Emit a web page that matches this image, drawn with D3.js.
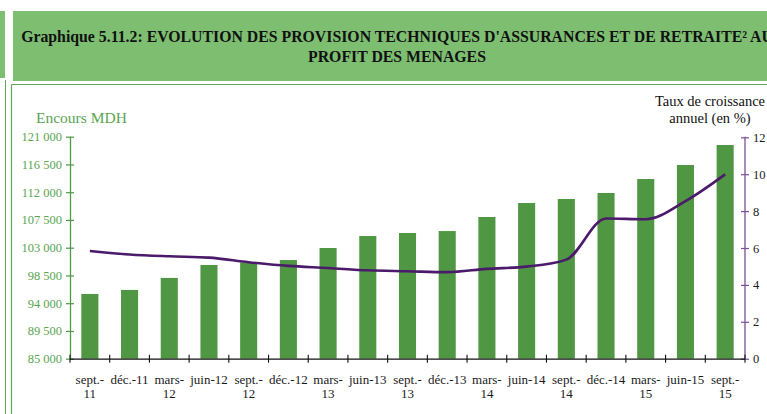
<!DOCTYPE html>
<html>
<head>
<meta charset="utf-8">
<script src="https://cdn.jsdelivr.net/npm/d3@7"></script>
<style>
  html, body { margin: 0; padding: 0; background: #fff; }
  svg { display: block; }
  text { font-family: "Liberation Serif", "Times New Roman", serif; }
</style>
</head>
<body>
<svg id="chart" width="767" height="414"></svg>
<script>
// Quarterly periods shown on the horizontal axis
const periods = ["sept.-11", "déc.-11", "mars-12", "juin-12", "sept.-12", "déc.-12",
  "mars-13", "juin-13", "sept.-13", "déc.-13", "mars-14", "juin-14",
  "sept.-14", "déc.-14", "mars-15", "juin-15", "sept.-15"];

// Tick labels as printed (two lines where the label wraps)
const tickLabels = ["sept.-\n11", "déc.-11", "mars-\n12", "juin-12", "sept.-\n12", "déc.-12",
  "mars-\n13", "juin-13", "sept.-\n13", "déc.-13", "mars-\n14", "juin-14",
  "sept.-\n14", "déc.-14", "mars-\n15", "juin-15", "sept.-\n15"];

// Outstanding technical provisions (MDH)
const encours = [95500, 96150, 98100, 100200, 100570, 101000, 102950, 104900, 105380,
  105700, 107980, 110250, 110900, 111870, 114140, 116410, 119650];

// Annual growth rate (%)
const croissance = [5.84, 5.65, 5.55, 5.48, 5.23, 5.03, 4.92, 4.79, 4.74,
  4.69, 4.87, 4.99, 5.37, 7.60, 7.56, 8.54, 9.99];

// Axis tick values
const leftTicks = [85000, 89500, 94000, 98500, 103000, 107500, 112000, 116500, 121000];
const rightTicks = [0, 2, 4, 6, 8, 10, 12];

const titleLines = ["Graphique 5.11.2: EVOLUTION DES PROVISION TECHNIQUES D'ASSURANCES ET DE RETRAITE² AU",
  "PROFIT DES  MENAGES"];

const svg = d3.select("#chart");

const C = {
  band: "#7dbe71",
  frame: "#5fa855",
  bar: "#4f9743",
  line: "#4b1a6b",
  leftAxis: "#4f9a46",
  leftText: "#5aa552",
  rightAxis: "#7c4f99",
  dark: "#1a1a1a"
};

// ---- Page frame and title band ----
svg.append("rect").attr("x", 0).attr("y", 11).attr("width", 5).attr("height", 67).attr("fill", C.band);
svg.append("rect").attr("x", 13).attr("y", 11).attr("width", 760).attr("height", 70).attr("fill", C.band);
svg.append("line").attr("x1", 11.5).attr("x2", 767).attr("y1", 84.5).attr("y2", 84.5)
  .attr("stroke", C.frame).attr("stroke-width", 1.2);
svg.append("line").attr("x1", 11.5).attr("x2", 11.5).attr("y1", 84.5).attr("y2", 414)
  .attr("stroke", C.frame).attr("stroke-width", 1.2);
svg.append("line").attr("x1", 5.5).attr("x2", 5.5).attr("y1", 80).attr("y2", 414)
  .attr("stroke", C.frame).attr("stroke-width", 1);

const title = svg.append("text")
  .attr("text-anchor", "middle")
  .attr("font-weight", "bold")
  .attr("font-size", 15.8)
  .attr("fill", "#111");
title.append("tspan").attr("x", 397).attr("y", 42).text(titleLines[0]);
title.append("tspan").attr("x", 397).attr("y", 62).text(titleLines[1]);

// ---- Scales ----
const plotLeft = 70, plotRight = 745, plotTop = 136.7, plotBottom = 358.7;

const x = d3.scaleBand().domain(periods).range([plotLeft, plotRight]).padding(0);
const barW = x.bandwidth() * 0.43;
const yL = d3.scaleLinear().domain([85000, 121000]).range([plotBottom, plotTop]);
const yR = d3.scaleLinear().domain([0, 12]).range([plotBottom, plotTop + 0.6]);

const fr = d3.formatLocale({ decimal: ",", thousands: " ", grouping: [3], currency: ["", ""] });
const fmt = fr.format(",");

// ---- Bars ----
svg.append("g").selectAll("rect").data(encours).join("rect")
  .attr("x", (d, i) => x(periods[i]) + (x.bandwidth() - barW) / 2)
  .attr("y", d => yL(d))
  .attr("width", barW)
  .attr("height", d => yL(85000) - yL(d))
  .attr("fill", C.bar);

// ---- Left axis ----
const gL = svg.append("g").attr("transform", `translate(${plotLeft},0)`)
  .call(d3.axisLeft(yL).tickValues(leftTicks).tickFormat(fmt).tickSize(4).tickPadding(5));
gL.select(".domain").attr("stroke", C.leftAxis).attr("stroke-width", 1.3).attr("d", `M0.5,${plotTop}V${plotBottom}`);
gL.selectAll(".tick line").attr("stroke", C.leftAxis).attr("x1", 4).attr("x2", -4).attr("stroke-width", 1.2);
gL.selectAll(".tick text").attr("fill", C.leftText).attr("font-size", 12.5)
  .attr("font-family", "Liberation Serif, serif").attr("x", -8);

// ---- Right axis ----
const gR = svg.append("g").attr("transform", `translate(${plotRight},0)`)
  .call(d3.axisRight(yR).tickValues(rightTicks).tickSize(4).tickPadding(5));
gR.select(".domain").attr("stroke", C.rightAxis).attr("stroke-width", 1.3).attr("d", `M0,${plotTop}V${plotBottom}`);
gR.selectAll(".tick line").attr("stroke", C.rightAxis).attr("x1", -4).attr("x2", 4).attr("stroke-width", 1.2);
gR.selectAll(".tick text").attr("fill", C.dark).attr("font-size", 12.5)
  .attr("font-family", "Liberation Serif, serif").attr("x", 8);

// ---- Bottom axis ----
const gB = svg.append("g").attr("transform", `translate(0,${plotBottom})`)
  .call(d3.axisBottom(x).tickSize(0).tickFormat(""));
gB.select(".domain").attr("stroke", "#111").attr("stroke-width", 1.3)
  .attr("d", `M${plotLeft},0.5H${plotRight}`);

const boundaries = periods.map(p => x(p)).concat([plotRight]);
svg.append("g").selectAll("line").data(boundaries).join("line")
  .attr("x1", d => d).attr("x2", d => d)
  .attr("y1", plotBottom - 4).attr("y2", plotBottom + 4)
  .attr("stroke", "#111").attr("stroke-width", 1.1);

const lbl = svg.append("g").selectAll("text").data(tickLabels).join("text")
  .attr("text-anchor", "middle")
  .attr("font-size", 13)
  .attr("fill", C.dark);
lbl.each(function (d, i) {
  const t = d3.select(this);
  const cx = x(periods[i]) + x.bandwidth() / 2;
  d.split("\n").forEach((s, k) => {
    t.append("tspan").attr("x", cx).attr("y", 384 + k * 14).attr("fill", C.dark).text(s);
  });
});

// ---- Growth rate line ----
const line = d3.line()
  .x((d, i) => x(periods[i]) + x.bandwidth() / 2)
  .y(d => yR(d))
  .curve(d3.curveMonotoneX);
svg.append("path").datum(croissance)
  .attr("d", line)
  .attr("fill", "none")
  .attr("stroke", C.line)
  .attr("stroke-width", 2.6)
  .attr("stroke-linejoin", "round");

// ---- Axis titles ----
svg.append("text").attr("x", 36).attr("y", 123).attr("font-size", 15.5).attr("fill", C.leftText)
  .text("Encours MDH");
const rt = svg.append("text").attr("text-anchor", "middle").attr("font-size", 14.5).attr("fill", "#111");
rt.append("tspan").attr("x", 710).attr("y", 106).text("Taux de croissance");
rt.append("tspan").attr("x", 710).attr("y", 123).text("annuel (en %)");
</script>
</body>
</html>
